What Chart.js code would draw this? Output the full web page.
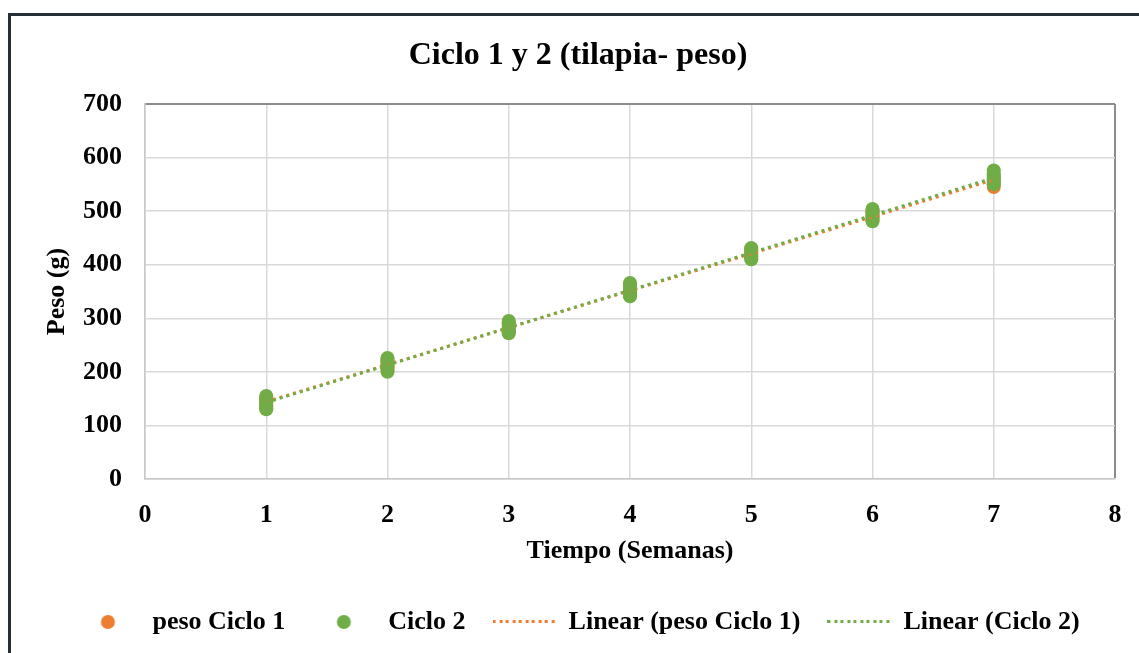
<!DOCTYPE html>
<html><head><meta charset="utf-8">
<script src="https://cdn.jsdelivr.net/npm/chart.js@4.4.1/dist/chart.umd.min.js"></script>
<style>
html,body{margin:0;padding:0;width:1139px;height:653px;overflow:hidden;background:#fff;}
#frame{position:absolute;left:8px;top:13px;width:2000px;height:2000px;border:3px solid #262e38;box-sizing:border-box;}
#wrap{position:absolute;left:0;top:0;width:1139px;height:653px;}
</style></head>
<body>
<div id="frame"></div>
<div id="wrap"><canvas id="c" width="1139" height="653"></canvas></div>
<script>
const weeks = [1,2,3,4,5,6,7];
// peso Ciclo 1 (orange) - several fish per week
const ciclo1 = [
  [132,138,143,148,152],
  [202,208,213,218,223],
  [273,279,284,289,293],
  [342,348,353,358,363],
  [411,416,421,426,430],
  [482,488,493,498,502],
  [545,550,555,560,565]
];
// Ciclo 2 (green)
const ciclo2 = [
  [130,136,142,148,155],
  [200,206,212,219,226],
  [272,278,284,290,295],
  [341,347,353,360,366],
  [410,415,420,426,431],
  [481,487,492,498,504],
  [550,556,562,569,576]
];
const xTicks = [0,1,2,3,4,5,6,7,8];
const yTicks = [0,100,200,300,400,500,600,700];

function toPoints(groups){
  const pts=[];
  groups.forEach((g,i)=>g.forEach(v=>pts.push({x:weeks[i],y:v})));
  return pts;
}
function trend(pts){
  const n=pts.length;
  let sx=0,sy=0,sxx=0,sxy=0;
  pts.forEach(p=>{sx+=p.x;sy+=p.y;sxx+=p.x*p.x;sxy+=p.x*p.y;});
  const b=(n*sxy-sx*sy)/(n*sxx-sx*sx);
  const a=(sy-b*sx)/n;
  const x0=weeks[0], x1=weeks[weeks.length-1];
  return [{x:x0,y:a+b*x0},{x:x1,y:a+b*x1}];
}
const p1=toPoints(ciclo1), p2=toPoints(ciclo2);
const ORANGE='#ED7D31', GREEN='#70AD47';
const FONT='"Liberation Serif","Times New Roman",serif';

function dotIcon(color){
  const c=document.createElement('canvas'); c.width=63; c.height=16;
  const g=c.getContext('2d'); g.fillStyle=color; g.beginPath(); g.arc(31.5,8,7,0,Math.PI*2); g.fill();
  return c;
}
function lineIcon(color){
  const c=document.createElement('canvas'); c.width=63; c.height=4;
  const g=c.getContext('2d'); g.fillStyle=color;
  for(let x=0;x<63;x+=6.5){ g.fillRect(Math.round(x),0,3,3); }
  return c;
}
const icons=[dotIcon(ORANGE),dotIcon(GREEN),lineIcon(ORANGE),lineIcon(GREEN)];

new Chart(document.getElementById('c'),{
  type:'scatter',
  data:{datasets:[
    {label:'peso Ciclo 1',data:p1,backgroundColor:ORANGE,borderColor:ORANGE,pointRadius:7,pointHoverRadius:7,borderWidth:0,pointStyle:'circle',order:4},
    {label:'Ciclo 2',data:p2,backgroundColor:GREEN,borderColor:GREEN,pointRadius:7,pointHoverRadius:7,borderWidth:0,pointStyle:'circle',order:3},
    {label:'Linear (peso Ciclo 1)',type:'line',data:trend(p1),borderColor:ORANGE,backgroundColor:ORANGE,borderWidth:3,borderDash:[3,4],pointRadius:0,fill:false,order:2},
    {label:'Linear (Ciclo 2)',type:'line',data:trend(p2),borderColor:GREEN,backgroundColor:GREEN,borderWidth:3,borderDash:[3,4],pointRadius:0,fill:false,order:1}
  ]},
  options:{
    responsive:false,animation:false,
    layout:{padding:{left:41,right:24,top:0,bottom:8}},
    plugins:{
      tooltip:{enabled:false},
      title:{display:true,text:'Ciclo 1 y 2 (tilapia- peso)',color:'#000',font:{family:FONT,size:32,weight:'bold'},padding:{top:37,bottom:28.6}},
      legend:{position:'bottom',labels:{
        usePointStyle:true,pointStyleWidth:63,boxHeight:16,padding:27,color:'#000',
        font:{family:FONT,size:26,weight:'bold'},
        sort:(a,b)=>a.datasetIndex-b.datasetIndex,
        generateLabels:(chart)=>{
          const items=Chart.defaults.plugins.legend.labels.generateLabels(chart);
          items.forEach(it=>{it.pointStyle=icons[it.datasetIndex];});
          return items;
        }
      }}
    },
    scales:{
      x:{type:'linear',min:0,max:8,
        afterBuildTicks:s=>{s.ticks=xTicks.map(v=>({value:v}));},
        afterFit:s=>{s.height=103;},
        ticks:{color:'#000',padding:3,font:{family:FONT,size:26,weight:'bold'}},
        grid:{drawTicks:true,tickLength:18,tickColor:'rgba(0,0,0,0)',color:c=>c.tick&&c.tick.value===8?'#8c8c8c':'#d9d9d9',lineWidth:c=>c.tick&&c.tick.value===8?2:1.5},
        border:{color:'#c8c8c8',width:1.5},
        title:{display:true,text:'Tiempo (Semanas)',color:'#000',font:{family:FONT,size:26,weight:'bold'},padding:{top:4,bottom:15}}
      },
      y:{type:'linear',min:0,max:700,
        afterBuildTicks:s=>{s.ticks=yTicks.map(v=>({value:v}));},
        afterFit:s=>{s.width=104;},
        ticks:{color:'#000',padding:23,font:{family:FONT,size:26,weight:'bold'}},
        grid:{drawTicks:false,color:c=>c.tick&&c.tick.value===700?'#8c8c8c':'#d9d9d9',lineWidth:c=>c.tick&&c.tick.value===700?2:1.5},
        border:{color:'#c8c8c8',width:1.5},
        title:{display:true,text:'Peso (g)',color:'#000',font:{family:FONT,size:26,weight:'bold'},padding:{top:1,bottom:4}}
      }
    }
  }
});
</script>
</body></html>
